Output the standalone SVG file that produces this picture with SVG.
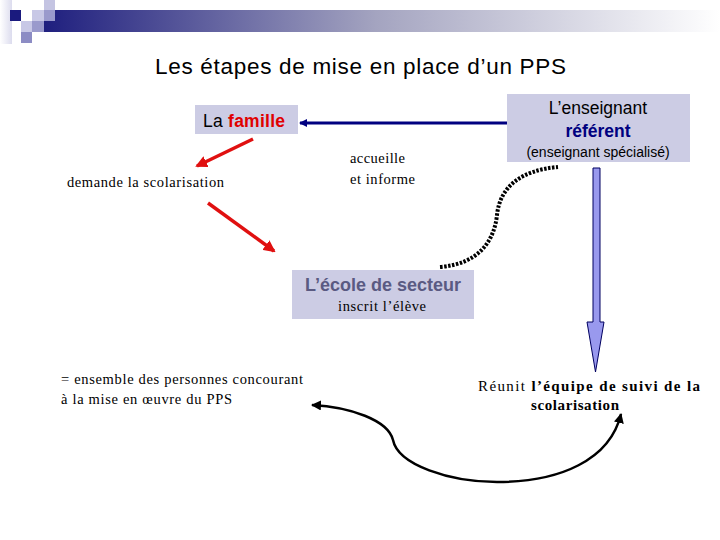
<svg xmlns="http://www.w3.org/2000/svg" width="720" height="540" viewBox="0 0 720 540">
<defs>
<linearGradient id="bar" x1="0" y1="0" x2="1" y2="0">
<stop offset="0" stop-color="#1a1a7c"/>
<stop offset="0.5" stop-color="#a4a4c0"/>
<stop offset="1" stop-color="#ffffff"/>
</linearGradient>
<linearGradient id="side" x1="0" y1="0" x2="1" y2="0">
<stop offset="0" stop-color="#ffffff"/>
<stop offset="1" stop-color="#dcdcee"/>
</linearGradient>
<marker id="navyHead" markerWidth="8" markerHeight="8" refX="7" refY="4" orient="auto" markerUnits="userSpaceOnUse">
<path d="M0,0 L8,4 L0,8 Z" fill="#000080"/>
</marker>
<marker id="redHead" markerWidth="12" markerHeight="12" refX="10" refY="6" orient="auto" markerUnits="userSpaceOnUse">
<path d="M0,0 L12,6 L0,12 Z" fill="#e01010"/>
</marker>
<marker id="blackHead" markerWidth="10" markerHeight="10" refX="9" refY="5" orient="auto" markerUnits="userSpaceOnUse">
<path d="M0,0 L10,5 L0,10 Z" fill="#000"/>
</marker>
<marker id="blackHeadStart" markerWidth="10" markerHeight="10" refX="1" refY="5" orient="auto" markerUnits="userSpaceOnUse">
<path d="M10,0 L0,5 L10,10 Z" fill="#000"/>
</marker>
</defs>
<style>
.sans{font-family:"Liberation Sans",Arial,sans-serif}
.serif{font-family:"Liberation Serif","Times New Roman",serif}
.box{fill:#ccccE4}
.t14{font-size:14.5px}
</style>

<g id="decor">
<rect x="0" y="0" width="12" height="44" fill="url(#side)"/>
<rect x="32" y="10" width="688" height="22" fill="url(#bar)"/>
<rect x="10" y="10" width="11" height="11" fill="#1a1a7e"/>
<rect x="21" y="21" width="11" height="11" fill="#c8c8e6"/>
<rect x="21" y="32" width="11" height="11" fill="#8c8cc4"/>
<rect x="32" y="10" width="12" height="11" fill="#c8c8e6"/>
<rect x="32" y="21" width="12" height="11" fill="#9a9acc"/>
<rect x="44" y="0" width="11" height="10" fill="#c4c4e2"/>
<rect x="44" y="10" width="11" height="11" fill="#9a9acc"/>
</g>

<text class="sans" x="155" y="74" font-size="22.5" textLength="411" lengthAdjust="spacing" fill="#000">Les étapes de mise en place d’un PPS</text>

<g id="connectors">
<line x1="507" y1="123" x2="300" y2="123" stroke="#000080" stroke-width="3" marker-end="url(#navyHead)"/>
<line x1="253" y1="139" x2="197" y2="166" stroke="#e01010" stroke-width="3.5" marker-end="url(#redHead)"/>
<line x1="208" y1="203" x2="274" y2="251" stroke="#e01010" stroke-width="3.5" marker-end="url(#redHead)"/>
<path d="M440,267 C478,264 494,242 497,215 C500,186 522,170 558,167" fill="none" stroke="#000" stroke-width="4" stroke-dasharray="2.5,1.5"/>
<path d="M593,168 L600,168 L600,322 L604,322 L595.5,372 L587,322 L593,322 Z" fill="#9999ee" stroke="#000060" stroke-width="1"/>
<path d="M312,405 C350,407 388,420 393,440 C398,465 450,482 497,482 C560,482 610,460 621,414" fill="none" stroke="#000" stroke-width="2.5" marker-start="url(#blackHeadStart)" marker-end="url(#blackHead)"/>
</g>

<g id="famille">
<rect class="box" x="195" y="105" width="103" height="29"/>
<text class="sans" x="203" y="127" font-size="17.5" textLength="82" lengthAdjust="spacing"><tspan fill="#000">La </tspan><tspan fill="#e00000" font-weight="bold">famille</tspan></text>
</g>

<g id="referent">
<rect class="box" x="507" y="94" width="183" height="68"/>
<text class="sans" x="598" y="114" font-size="17.5" text-anchor="middle" fill="#000">L’enseignant</text>
<text class="sans" x="598" y="137" font-size="17.5" text-anchor="middle" font-weight="bold" fill="#000080">référent</text>
<text class="sans" x="598" y="157" font-size="14" text-anchor="middle" fill="#000">(enseignant spécialisé)</text>
</g>

<g id="ecole">
<rect class="box" x="292" y="270" width="182" height="49"/>
<text class="sans" x="383" y="291" font-size="18" text-anchor="middle" font-weight="bold" fill="#5a5a82">L’école de secteur</text>
<text class="serif t14" x="338" y="311" textLength="88" lengthAdjust="spacing" fill="#000">inscrit l’élève</text>
</g>

<g id="labels">
<text class="serif t14" x="67" y="187" textLength="157" lengthAdjust="spacing" fill="#000">demande la scolarisation</text>
<text class="serif t14" x="350" y="163" textLength="55" lengthAdjust="spacing" fill="#000">accueille</text>
<text class="serif t14" x="350" y="184" textLength="65" lengthAdjust="spacing" fill="#000">et informe</text>
<text class="serif t14" x="61" y="384" textLength="242" lengthAdjust="spacing" fill="#000">= ensemble des personnes concourant</text>
<text class="serif t14" x="61" y="404" textLength="171" lengthAdjust="spacing" fill="#000">à la mise en œuvre du PPS</text>
<text class="serif" x="478" y="391" font-size="15" textLength="222" lengthAdjust="spacing" fill="#000">Réunit <tspan font-weight="bold">l’équipe de suivi de la</tspan></text>
<text class="serif" x="531" y="410" font-size="15" textLength="88" lengthAdjust="spacing" font-weight="bold" fill="#000">scolarisation</text>
</g>
</svg>
